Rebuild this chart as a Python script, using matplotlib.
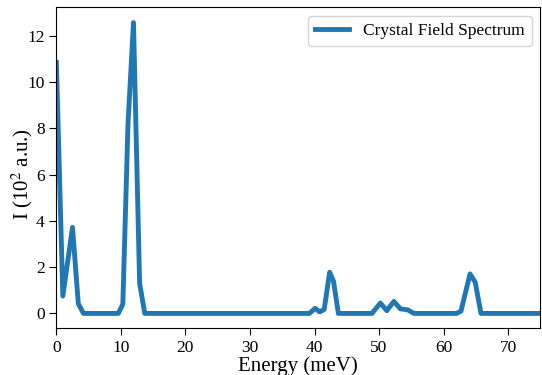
import matplotlib
matplotlib.use("Agg")
import matplotlib.pyplot as plt

plt.rcParams['font.family'] = ['Liberation Serif', 'DejaVu Serif']
plt.rcParams['mathtext.fontset'] = 'stix'

energy = [0.0, 1.0, 2.5, 3.4, 4.2, 9.6, 10.3, 11.1, 11.95, 12.9, 13.7,
          39.2, 40.1, 40.8, 41.5, 42.35, 42.95, 43.7,
          48.9, 50.2, 51.2, 52.3, 53.3, 54.5, 55.4,
          62.0, 62.7, 64.1, 64.9, 65.8, 75.2]
intensity = [10.85, 0.75, 3.72, 0.42, 0.0, 0.0, 0.4, 8.2, 12.57, 1.3, 0.0,
             0.0, 0.22, 0.07, 0.17, 1.78, 1.38, 0.0,
             0.0, 0.45, 0.12, 0.52, 0.2, 0.15, 0.0,
             0.0, 0.1, 1.71, 1.35, 0.0, 0.0]

fig = plt.figure(figsize=(5.42, 3.75), dpi=100)
ax = fig.add_axes([0.104, 0.1253, 0.893, 0.8552])
ax.plot(energy, intensity, color='#1f77b4', lw=3.5, label='Crystal Field Spectrum')
ax.set_xlim(0, 75)
ax.set_ylim(-0.63, 13.23)
ax.set_xticks([0, 10, 20, 30, 40, 50, 60, 70])
ax.set_yticks([0, 2, 4, 6, 8, 10, 12])
ax.tick_params(labelsize=12.5, direction='out', length=5)
ax.set_xlabel('Energy (meV)', fontsize=15, labelpad=0)
ax.set_ylabel(r'I (10$^2$ a.u.)', fontsize=15, labelpad=-6)
ax.yaxis.label.set_y(0.48)
ax.legend(loc='upper right', fontsize=12.5)
fig.savefig('out.png', dpi=100)
